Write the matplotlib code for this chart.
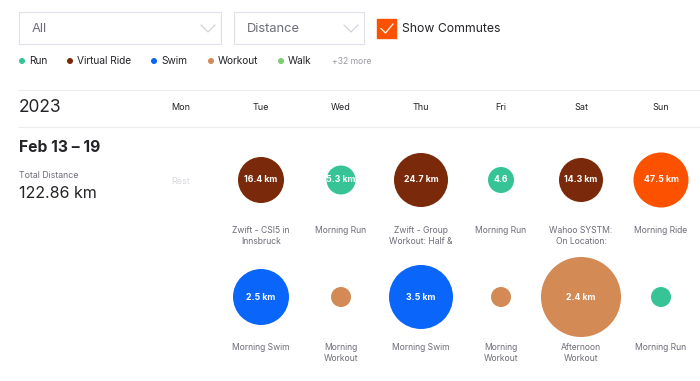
import matplotlib
matplotlib.use("Agg")
import matplotlib.pyplot as plt
from matplotlib.patches import Circle, Rectangle

plt.rcParams['font.family'] = ['Inter', 'DejaVu Sans']

# ---- data ----
days = ['Mon', 'Tue', 'Wed', 'Thu', 'Fri', 'Sat', 'Sun']
legend_types = ['Run', 'Virtual Ride', 'Swim', 'Workout', 'Walk']
type_colors = {'Run': '#36c496', 'Virtual Ride': '#7a2a0a', 'Swim': '#0a66fa',
               'Workout': '#d38a55', 'Walk': '#79cf6e', 'Ride': '#fc5200'}
more_types = '+32 more'
year = '2023'
week_label = 'Feb 13 – 19'
total_distance = '122.86 km'

# day index for each activity (Mon=0)
row1_day = [1, 2, 3, 4, 5, 6]
row1_type = ['Virtual Ride', 'Run', 'Virtual Ride', 'Run', 'Virtual Ride', 'Ride']
row1_text = ['16.4 km', '5.3 km', '24.7 km', '4.6', '14.3 km', '47.5 km']
row1_size = [23, 14.5, 27, 13, 22, 27.5]
row1_name = ['Zwift - CSI5 in\nInnsbruck', 'Morning Run', 'Zwift - Group\nWorkout: Half &',
             'Morning Run', 'Wahoo SYSTM:\nOn Location:', 'Morning Ride']

row2_day = [1, 2, 3, 4, 5, 6]
row2_type = ['Swim', 'Workout', 'Swim', 'Workout', 'Workout', 'Run']
row2_text = ['2.5 km', '', '3.5 km', '', '2.4 km', '']
row2_size = [28, 10, 32, 10, 40, 10]
row2_name = ['Morning Swim', 'Morning\nWorkout', 'Morning Swim', 'Morning\nWorkout',
             'Afternoon\nWorkout', 'Morning Run']

# ---- figure ----
W, H = 700, 381
fig = plt.figure(figsize=(W / 100, H / 100), dpi=100)
ax = fig.add_axes([0, 0, 1, 1])
ax.set_xlim(0, W)
ax.set_ylim(H, 0)
ax.axis('off')

col_x0, col_w = 181, 80
def dx(i):
    return col_x0 + col_w * i

DARK = '#242428'
GREY = '#6d6d78'

# dropdowns
for (x0, x1, label) in [(19, 221, 'All'), (234, 364, 'Distance')]:
    ax.add_patch(Rectangle((x0, 12), x1 - x0, 32, facecolor='white',
                           edgecolor='#dfdfe8', lw=0.8))
    ax.text(x0 + 13, 28.5, label, fontsize=9.3, color='#6d6d78', va='center', ha='left')
    cx = x1 - 13
    ax.plot([cx - 7, cx, cx + 7], [25, 32, 25], color='#cfcfd6', lw=0.8)

# checkbox
ax.add_patch(Rectangle((377, 19), 19, 19, facecolor='#fc5200', edgecolor='#fc5200'))
ax.plot([381, 385.5, 393], [28.5, 33, 24], color='white', lw=0.9)
ax.text(402, 28.5, 'Show Commutes', fontsize=8.8, color=DARK, va='center', ha='left')

# legend
leg_x = [22, 70, 154, 211, 281]
for x, t in zip(leg_x, legend_types):
    ax.add_patch(Circle((x, 61), 3, color=type_colors[t], lw=0))
    ax.text(x + 7, 61, t, fontsize=7.3, color=DARK, va='center', ha='left')
ax.text(332, 61, more_types, fontsize=6.2, color='#9a9aa3', va='center', ha='left')

# separators
ax.plot([19, 700], [90, 90], color='#ececf0', lw=0.8)
ax.plot([19, 700], [127, 127], color='#ececf0', lw=0.8)

# header
ax.text(19, 108, year, fontsize=12.5, color=DARK, va='center', ha='left')
for i, d in enumerate(days):
    ax.text(dx(i), 108, d, fontsize=6.5, color=DARK, va='center', ha='center')

# week summary
ax.text(19, 147, week_label, fontsize=11.3, fontweight='bold', color=DARK, va='center', ha='left')
ax.text(19, 175, 'Total Distance', fontsize=6.3, color=GREY, va='center', ha='left')
ax.text(19, 193, total_distance, fontsize=11.5, color=DARK, va='center', ha='left')
ax.text(dx(0), 181, 'Rest', fontsize=6.5, color='#d8d8de', va='center', ha='center')

def draw_row(days_i, types, texts, sizes, names, cy, name_y):
    for di, t, txt, r, nm in zip(days_i, types, texts, sizes, names):
        x = dx(di)
        c = Circle((x, cy), r, facecolor=type_colors[t], edgecolor='none')
        ax.add_patch(c)
        if txt:
            tt = ax.text(x, cy, txt, fontsize=6.3, fontweight='bold', color='white',
                         va='center', ha='center')
            tt.set_clip_path(c)
        ax.text(x, name_y, nm, fontsize=6.2, color=GREY, va='top', ha='center',
                linespacing=1.35)

draw_row(row1_day, row1_type, row1_text, row1_size, row1_name, 180, 226)
draw_row(row2_day, row2_type, row2_text, row2_size, row2_name, 297, 343)

fig.savefig('out.png', dpi=100)
